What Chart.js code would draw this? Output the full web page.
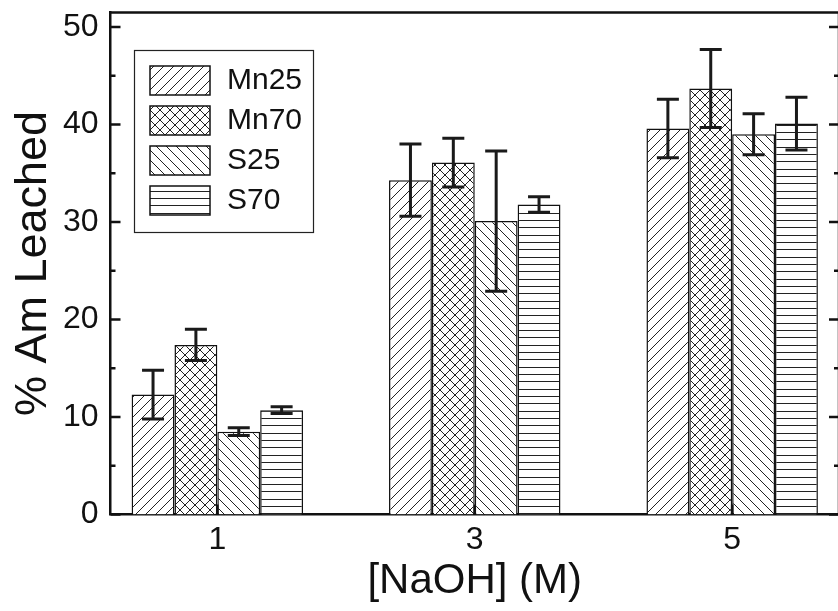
<!DOCTYPE html>
<html>
<head>
<meta charset="utf-8">
<script src="https://cdn.jsdelivr.net/npm/chart.js@4"></script>
<style>
html, body { margin: 0; padding: 0; background: #fff; overflow: hidden; }
#wrap { width: 845px; height: 611px; }
</style>
</head>
<body>
<div id="wrap"><canvas id="leachChart"></canvas></div>
<script>
// [NaOH] (M) categories
const categories = [1, 3, 5];

// % Am leached
const mn25 = [12.3, 34.3, 39.6];
const mn70 = [17.4, 36.1, 43.7];
const s25  = [8.5, 30.1, 39.0];
const s70  = [10.7, 31.8, 40.1];

// error bar half-lengths
const mn25Err = [2.5, 3.7, 3.0];
const mn70Err = [1.6, 2.5, 4.0];
const s25Err  = [0.4, 7.2, 2.1];
const s70Err  = [0.35, 0.8, 2.7];

const yMajorTicks = [0, 10, 20, 30, 40, 50];
const yMinorTicks = [5, 15, 25, 35, 45];

const FONT = "'Liberation Sans', Arial, sans-serif";
const INK = "#111";

// hatch fills
function hatch(kind) {
    const s = kind === "-" ? 22 : 10;
    const c = document.createElement("canvas");
    c.width = s; c.height = s;
    const g = c.getContext("2d");
    g.fillStyle = "#fff";
    g.fillRect(0, 0, s, s);
    g.strokeStyle = "#222";
    g.lineWidth = 1;
    g.beginPath();
    if (kind === "/" || kind === "x") {
        for (let k = -1; k <= 1; k++) { g.moveTo(k * s, s); g.lineTo(k * s + s, 0); }
    }
    if (kind === "\\" || kind === "x") {
        for (let k = -1; k <= 1; k++) { g.moveTo(k * s, 0); g.lineTo(k * s + s, s); }
    }
    if (kind === "-") {
        [0.5, 7.5, 15.5].forEach(y => { g.moveTo(0, y); g.lineTo(s, y); });
    }
    g.stroke();
    return g.createPattern(c, "repeat");
}

function series(label, vals, errs, kind) {
    return {
        label: label,
        data: categories.map((c, i) => ({ x: c, y: vals[i] })),
        errors: errs,
        backgroundColor: hatch(kind),
        borderColor: INK,
        borderWidth: 1.5,
        categoryPercentage: 0.666,
        barPercentage: 1
    };
}

// error bars drawn through the y scale
const errorBars = {
    id: "errorBars",
    afterDatasetsDraw(chart) {
        const ctx = chart.ctx;
        const y = chart.scales.y;
        ctx.save();
        ctx.strokeStyle = "#1a1a1a";
        ctx.lineWidth = 3;
        chart.data.datasets.forEach((ds, i) => {
            chart.getDatasetMeta(i).data.forEach((bar, j) => {
                const v = ds.data[j].y, e = ds.errors[j];
                const top = y.getPixelForValue(v + e);
                const bot = y.getPixelForValue(v - e);
                ctx.beginPath();
                ctx.moveTo(bar.x, top); ctx.lineTo(bar.x, bot);
                ctx.moveTo(bar.x - 11, top); ctx.lineTo(bar.x + 11, top);
                ctx.moveTo(bar.x - 11, bot); ctx.lineTo(bar.x + 11, bot);
                ctx.stroke();
            });
        });
        ctx.restore();
    }
};

// closed frame + inward tick marks
const frame = {
    id: "frame",
    afterDraw(chart) {
        const ctx = chart.ctx;
        const a = chart.chartArea;
        const y = chart.scales.y, x = chart.scales.x;
        ctx.save();
        ctx.strokeStyle = INK;
        ctx.lineWidth = 2.5;
        ctx.beginPath();
        ctx.moveTo(a.left, a.top); ctx.lineTo(a.right, a.top);
        ctx.moveTo(a.right, a.top); ctx.lineTo(a.right, a.bottom);
        const mark = (vals, len) => vals.forEach(v => {
            const p = y.getPixelForValue(v);
            ctx.moveTo(a.left, p); ctx.lineTo(a.left + len, p);
            ctx.moveTo(a.right, p); ctx.lineTo(a.right - len, p);
        });
        mark(yMajorTicks, 10);
        mark(yMinorTicks, 5);
        categories.forEach(c => {
            const p = x.getPixelForValue(c);
            ctx.moveTo(p, a.bottom); ctx.lineTo(p, a.bottom - 10);
        });
        ctx.stroke();
        ctx.restore();
    }
};

// boxed legend in the upper left of the plot
const boxLegend = {
    id: "boxLegend",
    afterDraw(chart) {
        const ctx = chart.ctx;
        ctx.save();
        ctx.fillStyle = "#fff";
        ctx.fillRect(134.5, 50.5, 179, 182);
        ctx.strokeStyle = "#222";
        ctx.lineWidth = 1.2;
        ctx.strokeRect(134.5, 50.5, 179, 182);
        ctx.font = "30px " + FONT;
        ctx.textBaseline = "middle";
        chart.data.datasets.forEach((ds, i) => {
            const top = 66 + i * 40;
            ctx.fillStyle = ds.backgroundColor;
            ctx.fillRect(150, top, 60, 29);
            ctx.strokeStyle = INK;
            ctx.lineWidth = 1.5;
            ctx.strokeRect(150, top, 60, 29);
            ctx.fillStyle = INK;
            ctx.fillText(ds.label, 227, top + 15);
        });
        ctx.restore();
    }
};

new Chart(document.getElementById("leachChart"), {
    type: "bar",
    data: {
        datasets: [
            series("Mn25", mn25, mn25Err, "/"),
            series("Mn70", mn70, mn70Err, "x"),
            series("S25", s25, s25Err, "\\"),
            series("S70", s70, s70Err, "-")
        ]
    },
    options: {
        responsive: true,
        maintainAspectRatio: false,
        animation: false,
        events: [],
        layout: { padding: { top: 12.5, right: 6, left: 0, bottom: 0 } },
        plugins: {
            legend: { display: false },
            tooltip: { enabled: false }
        },
        scales: {
            x: {
                type: "linear",
                offset: false,
                min: 0.17,
                max: 5.83,
                afterBuildTicks: s => { s.ticks = categories.map(v => ({ value: v })); },
                afterFit: s => { s.height = 96.5; s.paddingLeft = 0; s.paddingRight = 0; },
                grid: { display: false, drawTicks: false, offset: false },
                border: { display: true, color: INK, width: 2.5 },
                ticks: {
                    padding: 6,
                    color: INK,
                    font: { family: FONT, size: 32 },
                    callback: v => String(v)
                },
                title: {
                    display: true,
                    text: "[NaOH] (M)",
                    color: INK,
                    font: { family: FONT, size: 42 },
                    padding: { top: 0, bottom: 4 }
                }
            },
            y: {
                min: 0,
                max: 51.5,
                afterBuildTicks: s => { s.ticks = yMajorTicks.map(v => ({ value: v })); },
                afterFit: s => { s.width = 110.5; s.paddingTop = 0; s.paddingBottom = 0; },
                grid: { display: false, drawTicks: false },
                border: { display: true, color: INK, width: 2.5 },
                ticks: {
                    padding: 12,
                    color: INK,
                    font: { family: FONT, size: 32 },
                    callback: v => String(v)
                },
                title: {
                    display: true,
                    text: "% Am Leached",
                    color: INK,
                    font: { family: FONT, size: 45 },
                    padding: { top: 7, bottom: 0 }
                }
            }
        }
    },
    plugins: [errorBars, frame, boxLegend]
});
</script>
</body>
</html>
